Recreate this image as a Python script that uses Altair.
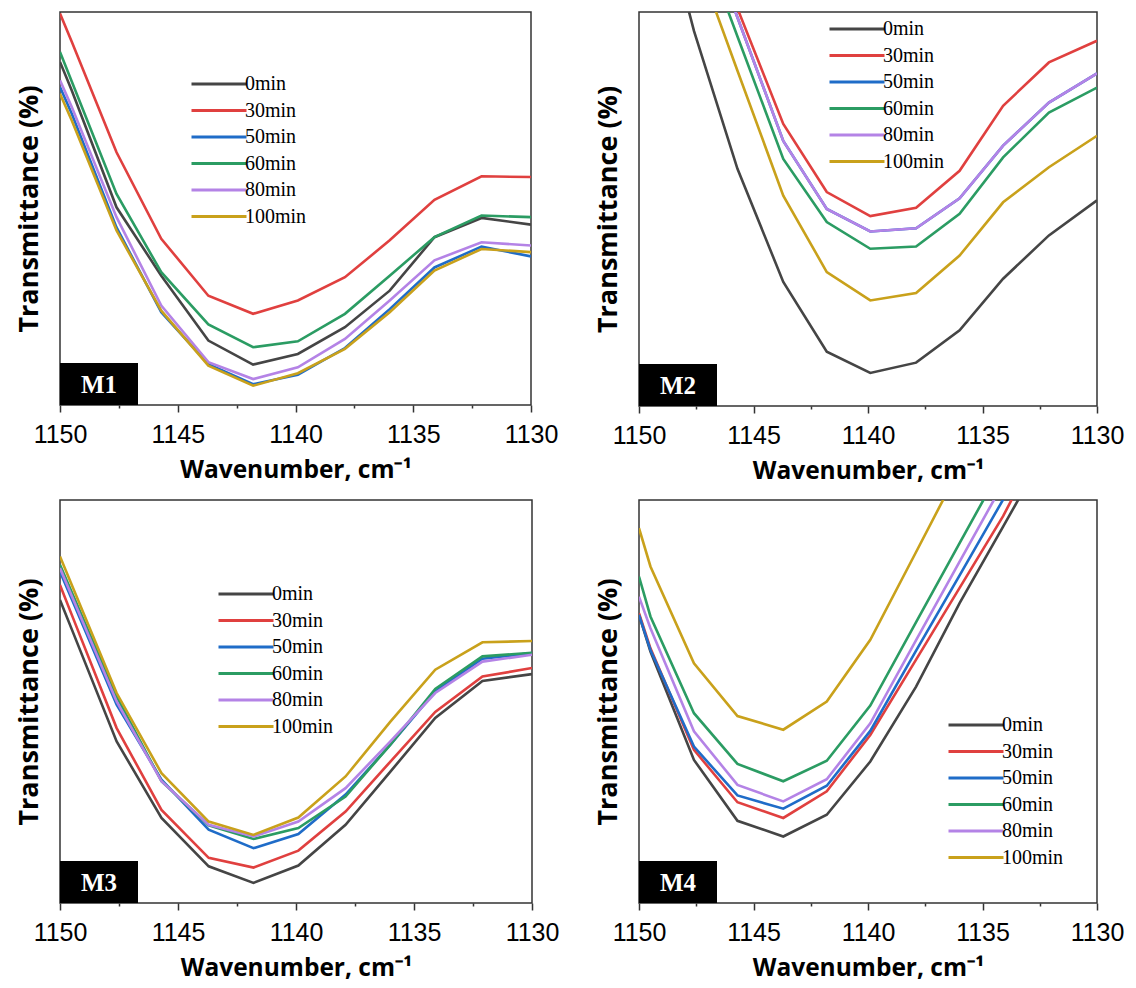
import altair as alt
import pandas as pd

# Wavenumber sample positions (cm-1)
wavenumber = [1150.0, 1149.5, 1147.6, 1145.7, 1143.7, 1141.8, 1139.9, 1137.9, 1136.0, 1134.1, 1132.1, 1130.0]

series = ["0min", "30min", "50min", "60min", "80min", "100min"]
colors = ["#454545", "#e0403f", "#1f6cc8", "#2b9c63", "#b483e6", "#c9a11b"]

# Transmittance (arbitrary units, 0 = bottom of panel, 100 = top)
m1 = {
    "0min":   [87.3, 80.0, 50.3, 32.9, 16.4, 10.3, 13.0, 19.8, 29.1, 42.7, 47.6, 45.9],
    "30min":  [99.6, 92.4, 64.3, 42.3, 27.8, 23.2, 26.6, 32.5, 41.9, 52.2, 58.2, 58.0],
    "50min":  [80.9, 74.1, 45.2, 23.6, 10.4, 5.3, 7.7, 14.5, 24.4, 35.0, 40.3, 37.8],
    "60min":  [89.8, 82.3, 53.7, 33.8, 20.5, 14.7, 16.2, 23.2, 32.9, 42.7, 48.2, 47.8],
    "80min":  [82.6, 75.8, 47.8, 25.3, 10.9, 6.6, 9.6, 16.8, 26.6, 36.8, 41.4, 40.6],
    "100min": [79.2, 72.4, 44.4, 24.0, 10.0, 4.9, 8.1, 14.3, 23.6, 34.2, 39.7, 38.9],
}
m2 = {
    "0min":   [148.2, 137.7, 95.2, 60.2, 31.5, 13.8, 8.4, 11.0, 19.2, 32.3, 43.3, 52.2],
    "30min":  [164.2, 157.2, 128.9, 100.9, 71.6, 54.3, 48.2, 50.3, 59.7, 76.2, 87.2, 92.7],
    "50min":  [166.2, 158.6, 128.4, 98.6, 67.3, 50.0, 44.3, 45.1, 52.7, 66.1, 77.0, 84.4],
    "60min":  [160.9, 153.5, 123.4, 93.8, 62.7, 46.7, 39.9, 40.5, 48.8, 63.1, 74.5, 80.8],
    "80min":  [166.2, 158.6, 128.4, 98.6, 67.3, 50.0, 44.3, 45.1, 52.7, 66.1, 77.0, 84.4],
    "100min": [153.7, 146.1, 115.4, 85.1, 53.4, 34.0, 26.8, 28.7, 38.2, 51.7, 60.6, 68.6],
}
m3 = {
    "0min":   [75.2, 67.9, 40.1, 21.1, 9.1, 5.0, 9.3, 19.4, 32.6, 45.9, 55.1, 56.8],
    "30min":  [78.9, 71.5, 43.4, 23.1, 11.2, 8.8, 13.0, 22.7, 35.1, 47.4, 56.2, 58.3],
    "50min":  [82.2, 75.4, 49.2, 30.6, 18.2, 13.6, 17.1, 26.9, 39.3, 52.5, 60.6, 62.0],
    "60min":  [83.9, 77.1, 51.2, 30.2, 19.3, 15.9, 18.6, 26.4, 39.3, 53.1, 61.2, 62.1],
    "80min":  [83.1, 76.2, 50.0, 30.2, 19.4, 16.5, 20.2, 28.5, 40.1, 52.1, 59.9, 61.6],
    "100min": [86.0, 78.9, 52.1, 32.2, 20.2, 16.9, 21.2, 31.4, 45.0, 57.9, 64.7, 65.0],
}
m4 = {
    "0min":   [71.5, 62.4, 35.5, 20.4, 16.5, 21.9, 35.1, 53.7, 74.4, 93.4, 113.5, 134.8],
    "30min":  [71.9, 63.2, 38.0, 25.0, 21.1, 27.7, 41.7, 60.4, 78.2, 96.0, 117.8, 140.9],
    "50min":  [71.5, 62.8, 38.8, 26.7, 23.4, 29.1, 42.7, 62.6, 81.3, 100.1, 120.2, 143.8],
    "60min":  [81.0, 71.1, 47.1, 34.5, 30.2, 35.3, 49.0, 69.7, 89.3, 108.8, 129.5, 151.2],
    "80min":  [76.0, 68.2, 42.6, 29.3, 25.2, 30.7, 44.6, 65.2, 84.7, 104.1, 124.7, 146.4],
    "100min": [93.0, 83.5, 59.5, 46.4, 43.0, 50.0, 65.3, 87.1, 107.9, 128.8, 150.7, 173.9],
}

tick_values = [1130, 1132.5, 1135, 1137.5, 1140, 1142.5, 1145, 1147.5, 1150]

FRAME = "#333333"


def panel(name, data, w, h, leg_x, leg_y):
    rows = []
    for s in series:
        for wn, t in zip(wavenumber, data[s]):
            rows.append({"wn": wn, "t": t, "series": s})
    df = pd.DataFrame(rows)

    lines = alt.Chart(df).mark_line(clip=True, strokeWidth=2.6).encode(
        x=alt.X(
            "wn:Q",
            scale=alt.Scale(domain=[1130, 1150], reverse=True, nice=False, zero=False),
            axis=alt.Axis(
                values=tick_values,
                format="d",
                labelExpr="datum.value % 5 === 0 ? datum.label : ''",
                labelFlush=False,
                labelOverlap=False,
                tickSize={"condition": {"test": "datum.value % 5 === 0", "value": 7}, "value": 3},
                tickColor=FRAME,
                tickWidth=1.5,
                domain=False,
                grid=False,
                labelFont="Liberation Sans",
                labelFontSize=25,
                labelColor="black",
                labelPadding=10,
                title="Wavenumber, cm⁻¹",
                titleFont="Open Sans",
                titleFontWeight="bold",
                titleFontSize=24.5,
                titleColor="black",
                titlePadding=11,
            ),
        ),
        y=alt.Y(
            "t:Q",
            scale=alt.Scale(domain=[0, 100], nice=False, zero=False),
            axis=alt.Axis(
                labels=False,
                ticks=False,
                domain=False,
                grid=False,
                title="Transmittance (%)",
                titleFont="Open Sans",
                titleFontWeight="bold",
                titleFontSize=27,
                titleColor="black",
                titlePadding=17,
            ),
        ),
        color=alt.Color(
            "series:N",
            scale=alt.Scale(domain=series, range=colors),
            legend=alt.Legend(
                orient="none",
                legendX=leg_x,
                legendY=leg_y,
                title=None,
                symbolType="M-5.5,0H5.5",
                symbolSize=100,
                symbolStrokeWidth=3,
                labelFont="Liberation Serif",
                labelFontSize=20,
                labelColor="black",
                labelOffset=16,
                rowPadding=6.5,
                padding=0,
            ),
        ),
    )

    tag = pd.DataFrame({"panel": [name]})
    box = alt.Chart(tag).mark_rect(color="black").encode(
        x=alt.value(0), x2=alt.value(78), y=alt.value(h - 42), y2=alt.value(h)
    )
    label = alt.Chart(tag).mark_text(
        font="Liberation Serif", fontWeight="bold", fontSize=25, color="white",
        align="center", baseline="middle"
    ).encode(x=alt.value(39), y=alt.value(h - 20), text="panel:N")

    return alt.layer(lines, box, label).properties(width=w, height=h)


p1 = panel("M1", m1, 471, 393, 149, 62)
p2 = panel("M2", m2, 458, 394, 208, 7)
p3 = panel("M3", m3, 472, 403, 176, 84)
p4 = panel("M4", m4, 458, 403, 327, 215)

row1 = alt.hconcat(p1, p2, spacing=34).resolve_scale(color="independent", x="independent", y="independent").resolve_legend(color="independent")
row2 = alt.hconcat(p3, p4, spacing=33).resolve_scale(color="independent", x="independent", y="independent").resolve_legend(color="independent")

chart = alt.vconcat(row1, row2, spacing=15).resolve_scale(
    color="independent", x="independent", y="independent"
).resolve_legend(color="independent").properties(
    padding={"left": 6, "top": 3, "right": 0, "bottom": 0},
    background="white",
).configure_view(
    stroke=FRAME, strokeWidth=1.5
)

chart.save("out.html", embed_options={"renderer": "svg", "actions": False})
